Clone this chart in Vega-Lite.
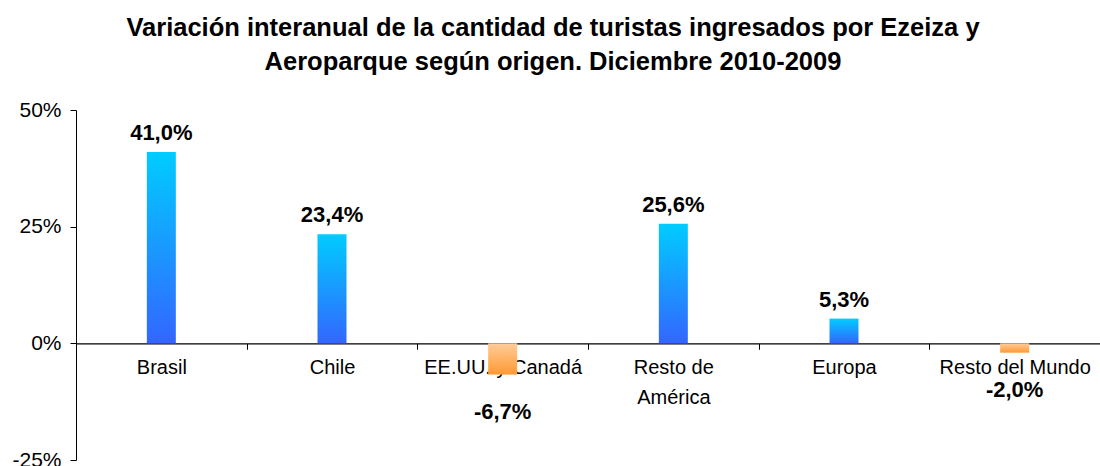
{
  "$schema": "https://vega.github.io/schema/vega-lite/v6.json",
  "autosize": "none",
  "width": 1024,
  "height": 350,
  "padding": {"left": 76, "top": 110, "right": 0, "bottom": 6},
  "background": "white",
  "config": {
    "font": "Liberation Sans",
    "view": {"stroke": null},
    "locale": {"number": {"decimal": ",", "thousands": ".", "grouping": [3], "currency": ["", "€"], "minus": "-"}}
  },
  "title": {
    "text": ["Variación interanual de la cantidad de turistas ingresados por Ezeiza y", "Aeroparque según origen. Diciembre 2010-2009"],
    "fontSize": 25.5,
    "fontWeight": "bold",
    "color": "black",
    "lineHeight": 34,
    "anchor": "middle",
    "dx": -35,
    "offset": 24
  },
  "data": {
    "values": [
      {"origen": "Brasil", "var": 0.410},
      {"origen": "Chile", "var": 0.234},
      {"origen": "EE.UU. y Canadá", "var": -0.067},
      {"origen": "Resto de América", "var": 0.256},
      {"origen": "Europa", "var": 0.053},
      {"origen": "Resto del Mundo", "var": -0.020}
    ]
  },
  "encoding": {
    "x": {
      "field": "origen",
      "type": "nominal",
      "sort": ["Brasil", "Chile", "EE.UU. y Canadá", "Resto de América", "Europa", "Resto del Mundo"],
      "scale": {"paddingInner": 0, "paddingOuter": 0},
      "axis": {
        "title": null,
        "orient": "bottom",
        "offset": -116.67,
        "labelAngle": 0,
        "labelFontSize": 20,
        "labelColor": "black",
        "labelPadding": 8,
        "labelLineHeight": 30,
        "labelBaseline": "top",
        "labelLimit": 300,
        "labelOverlap": false,
        "labelExpr": "datum.value == 'Resto de América' ? ['Resto de', 'América'] : datum.value",
        "tickBand": "extent",
        "tickSize": 6,
        "tickColor": "black",
        "domainColor": "black",
        "domainWidth": 1.2,
        "labelBound": false
      }
    },
    "y": {
      "field": "var",
      "type": "quantitative",
      "scale": {"domain": [-0.25, 0.5], "nice": false, "zero": false},
      "axis": {
        "title": null,
        "values": [-0.25, 0, 0.25, 0.5],
        "format": ".0%",
        "grid": false,
        "labelFontSize": 21,
        "labelColor": "black",
        "labelPadding": 9,
        "tickSize": 6,
        "tickColor": "black",
        "domainColor": "black"
      }
    }
  },
  "layer": [
    {
      "transform": [{"filter": "datum.var >= 0"}],
      "mark": {
        "type": "bar",
        "width": 29,
        "fill": {"gradient": "linear", "x1": 0, "y1": 0, "x2": 0, "y2": 1, "stops": [{"offset": 0, "color": "#00CCFF"}, {"offset": 1, "color": "#3366FF"}]}
      }
    },
    {
      "transform": [{"filter": "datum.var < 0"}],
      "mark": {
        "type": "bar",
        "width": 29,
        "fill": {"gradient": "linear", "x1": 0, "y1": 0, "x2": 0, "y2": 1, "stops": [{"offset": 0, "color": "#FFCC99"}, {"offset": 1, "color": "#FF9933"}]}
      }
    },
    {
      "transform": [{"filter": "datum.var >= 0"}],
      "mark": {"type": "text", "fontSize": 22, "fontWeight": "bold", "color": "black", "baseline": "alphabetic", "dy": -12},
      "encoding": {"text": {"field": "var", "type": "quantitative", "format": ".1%"}}
    },
    {
      "transform": [{"filter": "datum.var < 0"}],
      "mark": {"type": "text", "fontSize": 22, "fontWeight": "bold", "color": "black", "baseline": "top", "dy": 27},
      "encoding": {"text": {"field": "var", "type": "quantitative", "format": ".1%"}}
    }
  ]
}
